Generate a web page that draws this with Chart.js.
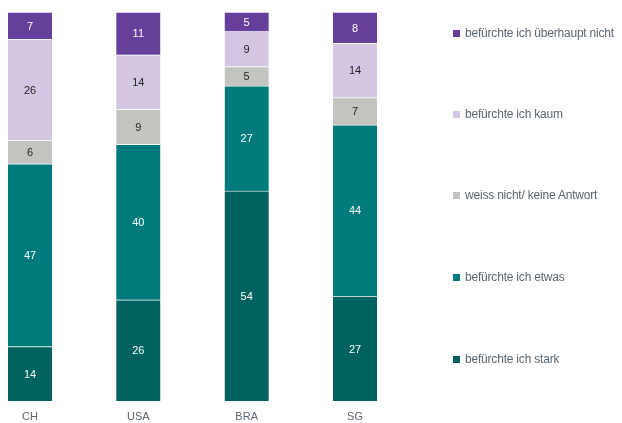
<!DOCTYPE html>
<html><head><meta charset="utf-8">
<script src="https://cdn.jsdelivr.net/npm/chart.js@4/dist/chart.umd.min.js"></script>
<style>
html,body{margin:0;padding:0;background:#fff;}
#wrap{position:relative;width:622px;height:423px;}
#legend{position:absolute;left:0;top:0;width:622px;height:423px;pointer-events:none;font-family:"Liberation Sans",Arial,sans-serif;font-size:12px;color:#5b6670;letter-spacing:-0.2px;}
.li{position:absolute;left:453px;height:14px;line-height:14px;white-space:nowrap;}
.sw{display:inline-block;width:7px;height:7px;margin-right:5px;vertical-align:0px;}
</style></head>
<body><div id="wrap"><canvas id="c" width="622" height="423"></canvas><div id="legend"></div></div>
<script>
const categories = ["CH", "USA", "BRA", "SG"];
const seriesNames = ["befürchte ich stark", "befürchte ich etwas", "weiss nicht/ keine Antwort", "befürchte ich kaum", "befürchte ich überhaupt nicht"];
const stark = [14, 26, 54, 27];
const etwas = [47, 40, 27, 44];
const weissNicht = [6, 9, 5, 7];
const kaum = [26, 14, 9, 14];
const ueberhauptNicht = [7, 11, 5, 8];
const seriesColors = ["#00625f", "#007a7c", "#c3c3c0", "#d3c6e2", "#663f9a"];
const labelColors = ["#ffffff", "#ffffff", "#222222", "#222222", "#ffffff"];
const seriesValues = [stark, etwas, weissNicht, kaum, ueberhauptNicht];

const datasets = seriesValues.map((vals, i) => ({
  label: seriesNames[i],
  data: vals,
  backgroundColor: seriesColors[i],
  borderColor: 'rgba(255,255,255,0.35)',
  borderWidth: {top: 1, bottom: 0, left: 0, right: 0},
  borderSkipped: false,
  barThickness: 44,
  clip: false
}));

const labelPlugin = {
  id: 'segLabels',
  afterDatasetsDraw(chart) {
    const ctx = chart.ctx;
    ctx.save();
    ctx.font = '11px "Liberation Sans", Arial, sans-serif';
    ctx.textAlign = 'center';
    ctx.textBaseline = 'middle';
    chart.data.datasets.forEach((ds, i) => {
      const meta = chart.getDatasetMeta(i);
      meta.data.forEach((bar, j) => {
        const p = bar.getProps(['x', 'y', 'base'], true);
        ctx.fillStyle = labelColors[i];
        ctx.fillText(String(ds.data[j]), p.x, (p.y + p.base) / 2 + 1);
      });
    });
    ctx.restore();
  }
};

new Chart(document.getElementById('c'), {
  type: 'bar',
  data: { labels: categories, datasets },
  options: {
    responsive: false,
    animation: false,
    layout: { padding: { left: 30, right: 267, top: 12, bottom: 0 } },
    plugins: { legend: { display: false }, tooltip: { enabled: false } },
    scales: {
      x: {
        stacked: true,
        offset: false,
        afterFit: s => { s.height = 22; },
        grid: { display: false, drawTicks: false },
        border: { display: false },
        ticks: { color: '#5b6670', padding: 9, font: { family: '"Liberation Sans", Arial, sans-serif', size: 11 }, maxRotation: 0 }
      },
      y: { stacked: true, min: 0, max: 100, display: false }
    }
  },
  plugins: [labelPlugin]
});

const legendTops = [33, 114, 195, 277, 359];
const lg = document.getElementById('legend');
for (let k = 4; k >= 0; k--) {
  const d = document.createElement('div');
  d.className = 'li';
  d.style.top = (legendTops[4 - k] - 7) + 'px';
  d.innerHTML = '<span class="sw" style="background:' + seriesColors[k] + '"></span>' + seriesNames[k];
  lg.appendChild(d);
}
</script></body></html>
